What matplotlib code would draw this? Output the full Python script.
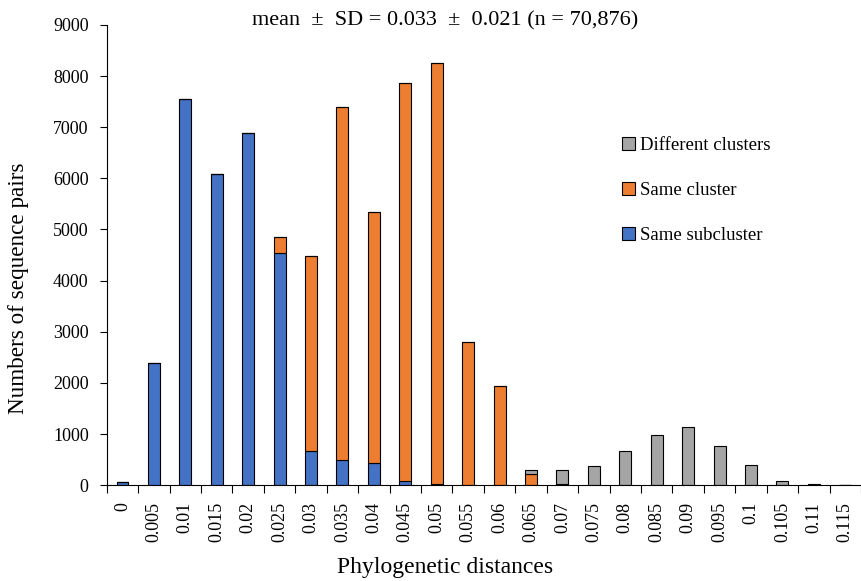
import numpy as np
import matplotlib
matplotlib.use("Agg")
import matplotlib.pyplot as plt
from matplotlib.ticker import FixedLocator

plt.rcParams['font.family'] = ['Liberation Serif', 'DejaVu Serif']

distances = ["0", "0.005", "0.01", "0.015", "0.02", "0.025", "0.03", "0.035", "0.04",
             "0.045", "0.05", "0.055", "0.06", "0.065", "0.07", "0.075", "0.08",
             "0.085", "0.09", "0.095", "0.1", "0.105", "0.11", "0.115"]
same_subcluster = [60, 2380, 7560, 6080, 6890, 4540, 660, 500, 440, 80, 20, 0, 0,
                   0, 0, 0, 0, 0, 0, 0, 0, 0, 0, 0]
same_cluster = [0, 0, 0, 0, 0, 320, 3820, 6900, 4900, 7780, 8230, 2800, 1930,
                210, 20, 0, 0, 0, 0, 0, 0, 0, 0, 0]
different_clusters = [0, 0, 0, 0, 0, 0, 0, 0, 0, 0, 0, 0, 0,
                      80, 270, 380, 660, 990, 1135, 770, 390, 85, 20, 10]

x = np.arange(len(distances))
sub = np.array(same_subcluster)
clu = np.array(same_cluster)
diff = np.array(different_clusters)

fig = plt.figure(figsize=(8.61, 5.81), dpi=100)
ax = fig.add_axes([0.124, 0.165, 0.876, 0.792])

w = 0.38
b1 = ax.bar(x, sub, w, color='#4472C4', edgecolor='black', linewidth=0.8, label='Same subcluster')
b2 = ax.bar(x, clu, w, bottom=sub, color='#ED7D31', edgecolor='black', linewidth=0.8, label='Same cluster')
b3 = ax.bar(x, diff, w, bottom=sub + clu, color='#A5A5A5', edgecolor='black', linewidth=0.8, label='Different clusters')

ax.set_xlim(-0.5, len(distances) - 0.5)
ax.set_ylim(0, 9000)
ax.set_yticks(np.arange(0, 9001, 1000))
ax.set_xticks(x)
ax.set_xticklabels(distances, rotation=90)
ax.xaxis.set_minor_locator(FixedLocator(np.arange(-0.5, len(distances), 1)))
ax.tick_params(axis='x', which='major', length=0, labelsize=13, pad=12)
ax.tick_params(axis='x', which='minor', length=6, width=0.8)
ax.tick_params(axis='y', labelsize=13, length=5, width=0.8, pad=8)

ax.spines['top'].set_visible(False)
ax.spines['right'].set_visible(False)

ax.set_xlabel('Phylogenetic distances', fontsize=17)
ax.set_ylabel('Numbers of sequence pairs', fontsize=16.7)
ax.xaxis.set_label_coords(0.448, -0.157)
ax.yaxis.set_label_coords(-0.103, 0.428)

fig.text(0.517, 0.964, 'mean  ±  SD = 0.033  ±  0.021 (n = 70,876)', fontsize=16,
         ha='center', va='center')

ax.legend(handles=[b3, b2, b1], loc='upper left', bbox_to_anchor=(0.661, 0.794),
          frameon=False, fontsize=13.5, labelspacing=1.5, handlelength=0.7,
          handleheight=0.7, handletextpad=0.25)

fig.savefig('out.png', dpi=100)
